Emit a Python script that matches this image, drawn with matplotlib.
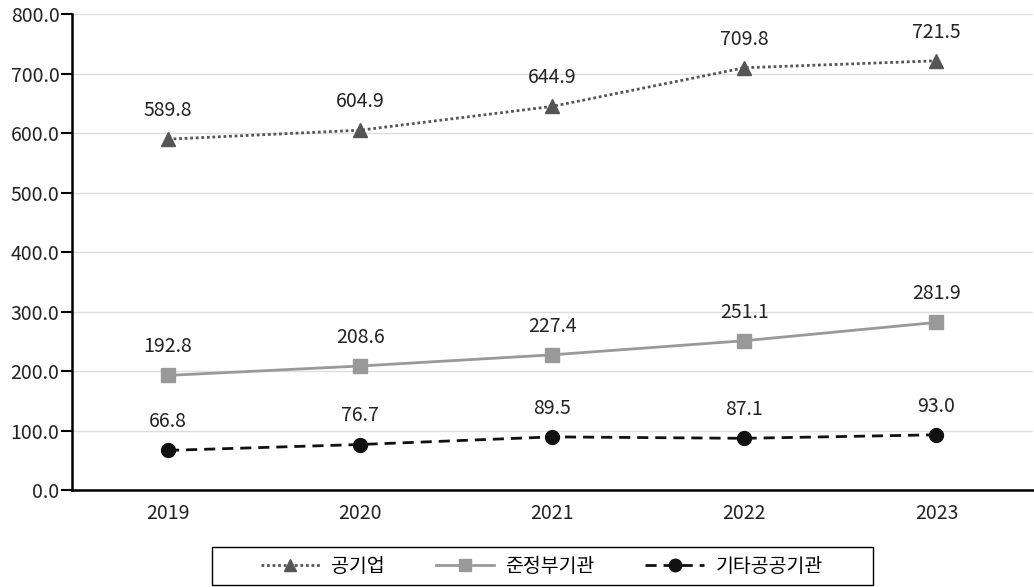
import matplotlib.pyplot as plt
from matplotlib.patches import Rectangle

plt.rcParams['font.family'] = ['Noto Sans CJK KR', 'DejaVu Sans']

years = ['2019', '2020', '2021', '2022', '2023']
public_corp = [589.8, 604.9, 644.9, 709.8, 721.5]
quasi_gov = [192.8, 208.6, 227.4, 251.1, 281.9]
other_public = [66.8, 76.7, 89.5, 87.1, 93.0]

labels = ['공기업', '준정부기관', '기타공공기관']

fig = plt.figure(figsize=(10.34, 5.87), dpi=100)
ax = fig.add_axes([0.0696, 0.165, 0.929, 0.811])

x = range(len(years))
ax.plot(x, public_corp, color='#555555', ls=(0, (1, 1)), lw=2,
        marker='^', ms=10, label=labels[0])
ax.plot(x, quasi_gov, color='#999999', ls='-', lw=2,
        marker='s', ms=9.5, label=labels[1])
ax.plot(x, other_public, color='#111111', ls=(0, (4, 2.5)), lw=2,
        marker='o', ms=10, label=labels[2])

for series in (public_corp, quasi_gov, other_public):
    for i, v in enumerate(series):
        ax.annotate(f'{v:.1f}', (i, v), xytext=(0, 13), textcoords='offset points',
                    ha='center', va='bottom', fontsize=14, color='#222222')

ax.set_xlim(-0.5, 4.5)
ax.set_ylim(0, 800)
ax.set_yticks(range(0, 801, 100))
ax.set_yticklabels([f'{v:.1f}' for v in range(0, 801, 100)], fontsize=14, color='#222222')
ax.set_xticks(list(x))
ax.set_xticklabels(years, fontsize=14, color='#222222')
ax.tick_params(axis='x', length=0, pad=9)
ax.tick_params(axis='y', length=8, width=1.5, pad=1)

ax.grid(axis='y', color='#dddddd', lw=1)
ax.set_axisbelow(True)
for s in ('top', 'right'):
    ax.spines[s].set_visible(False)
ax.spines['left'].set_linewidth(1.8)
ax.spines['bottom'].set_linewidth(1.8)

# legend box drawn separately so the side padding can be wider than the vertical one
fig.patches.append(Rectangle((212 / 1034, 2 / 587), 661 / 1034, 38 / 587,
                             transform=fig.transFigure, fill=False,
                             edgecolor='black', lw=1))
fig.legend(loc='center', bbox_to_anchor=(542 / 1034, 21 / 587), ncol=3,
           fontsize=14, frameon=False, handlelength=3, handletextpad=0.6,
           columnspacing=2.6, borderpad=0, markerscale=0.9)

fig.savefig('out.png', dpi=100)
